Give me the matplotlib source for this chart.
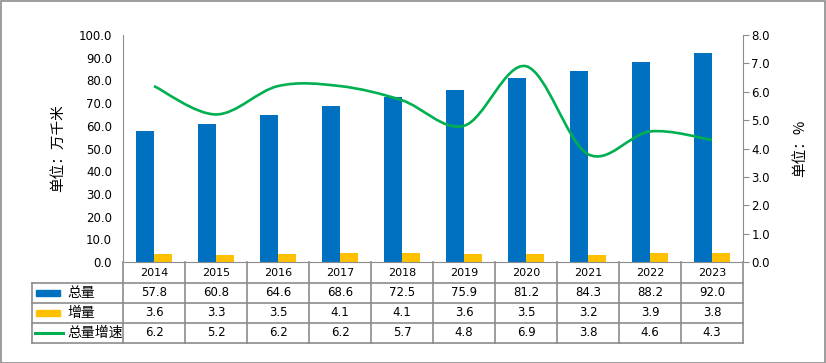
import matplotlib
matplotlib.use("Agg")
import matplotlib.pyplot as plt
from matplotlib.path import Path
from matplotlib.patches import PathPatch, Rectangle
from matplotlib.lines import Line2D
import numpy as np

years = ["2014", "2015", "2016", "2017", "2018", "2019", "2020", "2021", "2022", "2023"]
total = [57.8, 60.8, 64.6, 68.6, 72.5, 75.9, 81.2, 84.3, 88.2, 92.0]
increase = [3.6, 3.3, 3.5, 4.1, 4.1, 3.6, 3.5, 3.2, 3.9, 3.8]
growth = [6.2, 5.2, 6.2, 6.2, 5.7, 4.8, 6.9, 3.8, 4.6, 4.3]
series_names = ["总量", "增量", "总量增速"]

BLUE = "#0070C0"
YELLOW = "#FFC000"
GREEN = "#00B050"
GRID = "#8C8C8C"
CJK = ["Noto Sans CJK SC", "DejaVu Sans"]
NUMF = ["DejaVu Sans"]

W, H = 826, 363
fig = plt.figure(figsize=(W / 100, H / 100), dpi=100)
L, R, T, B = 123, 743, 35, 262
ax = fig.add_axes([L / W, 1 - B / H, (R - L) / W, (B - T) / H])
ax2 = ax.twinx()

n = len(years)
x = np.arange(n)
bw = 0.29
ax.bar(x - bw / 2, total, bw, color=BLUE, zorder=2)
ax.bar(x + bw / 2, increase, bw, color=YELLOW, zorder=2)
ax.set_xlim(-0.5, n - 0.5)
ax.set_ylim(0, 100)
ax.set_yticks(np.arange(0, 101, 10))
ax.set_yticklabels([f"{v:.1f}" for v in np.arange(0, 101, 10)], fontsize=8.5, family=NUMF)
ax.tick_params(axis="y", length=0, pad=8)
ax.set_xticks([])

# smooth curve (Catmull-Rom as cubic Bezier)
pts = np.column_stack([x, growth]).astype(float)
verts = [tuple(pts[0])]
codes = [Path.MOVETO]
for i in range(n - 1):
    p0 = pts[i - 1] if i > 0 else pts[i]
    p1 = pts[i]
    p2 = pts[i + 1]
    p3 = pts[i + 2] if i + 2 < n else pts[i + 1]
    c1 = p1 + (p2 - p0) / 6
    c2 = p2 - (p3 - p1) / 6
    verts += [tuple(c1), tuple(c2), tuple(p2)]
    codes += [Path.CURVE4] * 3
ax2.add_patch(PathPatch(Path(verts, codes), fill=False, edgecolor=GREEN, lw=1.9, zorder=3))
ax2.set_ylim(0, 8)
ax2.set_yticks(np.arange(0, 8.1, 1))
ax2.set_yticklabels([f"{v:.1f}" for v in np.arange(0, 8.1, 1)], fontsize=8.5, family=NUMF)
ax2.tick_params(axis="y", length=4, color=GRID, pad=2)

for a in (ax, ax2):
    for s in ("top",):
        a.spines[s].set_visible(False)
    for s in ("left", "right", "bottom"):
        a.spines[s].set_color(GRID)
ax.spines["right"].set_visible(False)
ax2.spines["left"].set_visible(False)
ax2.spines["bottom"].set_visible(False)

ax.set_ylabel("单位：万千米", family=CJK, fontsize=10.5, labelpad=10)
ax2.set_ylabel("单位：%", family=CJK, fontsize=10.5, rotation=90, labelpad=17)

# table (pixel layout)
def fx(px):
    return px / W

def fy(py):
    return 1 - py / H

colw = (R - L) / n
row_top = [262, 283, 303, 323, 343]
lc = dict(color=GRID, lw=1.2, transform=fig.transFigure)
HX = 32
# horizontal lines
for yy in row_top[1:]:
    fig.add_artist(Line2D([fx(HX), fx(R)], [fy(yy), fy(yy)], **lc))
# vertical lines
for j in range(n + 1):
    xx = L + j * colw
    fig.add_artist(Line2D([fx(xx), fx(xx)], [fy(262), fy(343)], **lc))
fig.add_artist(Line2D([fx(HX), fx(HX)], [fy(283), fy(343)], **lc))

# year labels
for j, yr in enumerate(years):
    cx = L + (j + 0.5) * colw
    fig.text(fx(cx), fy(273), yr, ha="center", va="center", fontsize=8, family=NUMF)
rows = [total, increase, growth]
for r, vals in enumerate(rows):
    cy = (row_top[r + 1] + row_top[r + 2]) / 2
    for j, v in enumerate(vals):
        cx = L + (j + 0.5) * colw
        fig.text(fx(cx), fy(cy), f"{v:.1f}", ha="center", va="center", fontsize=8.5, family=NUMF)
    fig.text(fx(67), fy(cy), series_names[r], ha="left", va="center", fontsize=10, family=CJK)

# legend keys
r0 = (283 + 303) / 2
fig.add_artist(Rectangle((fx(36), fy(r0 + 3)), fx(24), 6 / H, color=BLUE, transform=fig.transFigure))
r1 = (303 + 323) / 2
fig.add_artist(Rectangle((fx(36), fy(r1 + 3)), fx(24), 6 / H, color=YELLOW, transform=fig.transFigure))
r2 = (323 + 343) / 2
fig.add_artist(Line2D([fx(35), fx(63)], [fy(r2), fy(r2)], color=GREEN, lw=2.2, transform=fig.transFigure))

# outer border
fig.add_artist(Rectangle((0.5 / W, 0.5 / H), 1 - 1.5 / W, 1 - 1.5 / H, fill=False,
                         edgecolor=GRID, lw=1.2, transform=fig.transFigure))

fig.savefig("out.png", dpi=100)
